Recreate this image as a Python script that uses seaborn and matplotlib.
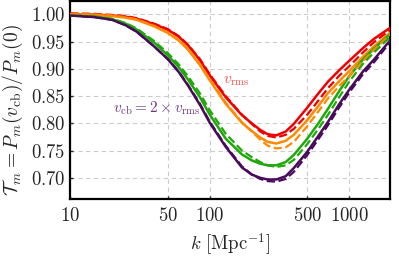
import numpy as np
import pandas as pd
import matplotlib
matplotlib.use("Agg")
import matplotlib.pyplot as plt
import matplotlib.ticker as mticker
import seaborn as sns

# wavenumbers k [Mpc^-1]
k = [10, 15, 20, 25, 30, 40, 50, 60, 70, 85, 100, 130, 170, 200, 230, 260, 300,
     350, 400, 500, 600, 700, 850, 1000, 1250, 1500, 2000]

# transfer T_m for each velocity case, solid and dashed
red_solid = [1.000, 0.9995, 0.998, 0.9955, 0.992, 0.982, 0.972, 0.959, 0.943, 0.916,
             0.888, 0.848, 0.815, 0.800, 0.788, 0.780, 0.778, 0.785, 0.799, 0.829,
             0.855, 0.876, 0.898, 0.915, 0.938, 0.955, 0.977]
red_dash = [1.002, 1.001, 0.999, 0.997, 0.993, 0.983, 0.973, 0.960, 0.944, 0.918,
            0.890, 0.850, 0.816, 0.799, 0.785, 0.777, 0.774, 0.779, 0.790, 0.816,
            0.842, 0.864, 0.888, 0.905, 0.930, 0.949, 0.973]
orange_solid = [1.000, 0.999, 0.997, 0.994, 0.990, 0.978, 0.966, 0.952, 0.935, 0.907,
                0.879, 0.836, 0.801, 0.786, 0.774, 0.766, 0.763, 0.768, 0.779, 0.806,
                0.832, 0.855, 0.878, 0.896, 0.922, 0.941, 0.968]
orange_dash = [1.001, 1.000, 0.998, 0.995, 0.991, 0.979, 0.967, 0.953, 0.937, 0.909,
               0.881, 0.838, 0.802, 0.785, 0.770, 0.759, 0.754, 0.756, 0.766, 0.795,
               0.822, 0.845, 0.869, 0.887, 0.914, 0.935, 0.965]
green_solid = [0.998, 0.996, 0.991, 0.983, 0.972, 0.948, 0.925, 0.903, 0.880, 0.848,
               0.816, 0.772, 0.743, 0.732, 0.726, 0.723, 0.723, 0.729, 0.742, 0.772,
               0.800, 0.826, 0.860, 0.887, 0.917, 0.937, 0.966]
green_dash = [0.998, 0.996, 0.992, 0.984, 0.974, 0.951, 0.929, 0.908, 0.886, 0.855,
              0.824, 0.781, 0.750, 0.738, 0.729, 0.723, 0.720, 0.723, 0.733, 0.762,
              0.790, 0.815, 0.849, 0.877, 0.909, 0.930, 0.961]
purple_solid = [0.998, 0.995, 0.990, 0.980, 0.968, 0.941, 0.918, 0.894, 0.869, 0.834,
                0.801, 0.757, 0.719, 0.706, 0.700, 0.697, 0.697, 0.703, 0.718, 0.748,
                0.777, 0.802, 0.836, 0.862, 0.895, 0.917, 0.955]
purple_dash = [0.998, 0.995, 0.990, 0.980, 0.968, 0.941, 0.918, 0.895, 0.870, 0.836,
               0.803, 0.759, 0.721, 0.706, 0.698, 0.694, 0.693, 0.698, 0.711, 0.742,
               0.771, 0.796, 0.830, 0.857, 0.890, 0.912, 0.952]

xticks = [10, 50, 100, 500, 1000]
yticks = [0.70, 0.75, 0.80, 0.85, 0.90, 0.95, 1.00]

sns.set_style("ticks")
plt.rcParams['mathtext.fontset'] = 'cm'
plt.rcParams['font.family'] = ['DejaVu Serif']

fig = plt.figure(figsize=(3.99, 2.63), dpi=100)
ax = fig.add_axes([0.176, 0.243, 0.801, 0.752])

courbes = [
    (red_solid, '#f00000', '-'), (orange_solid, '#ff8a00', '-'),
    (green_solid, '#1fa80a', '-'), (purple_solid, '#4a0a5c', '-'),
    (red_dash, '#f00000', '--'), (orange_dash, '#ff8a00', '--'),
    (green_dash, '#1fa80a', '--'), (purple_dash, '#4a0a5c', '--'),
]
for vals, c, ls in courbes:
    sns.lineplot(x=k, y=vals, ax=ax, color=c, linestyle=ls,
                 linewidth=1.8 if ls == '-' else 1.6,
                 dashes=False if ls == '-' else (3, 1.5), zorder=3)

ax.set_xscale('log')
ax.set_xlim(10, 1950)
ax.set_ylim(0.661, 1.024)
ax.set_xticks(xticks)
ax.xaxis.set_major_formatter(mticker.FuncFormatter(lambda v, p: f'${v:.0f}$'))
ax.xaxis.set_minor_locator(mticker.NullLocator())
ax.set_yticks(yticks)
ax.yaxis.set_major_formatter(mticker.FuncFormatter(lambda v, p: f'${v:.2f}$'))
ax.tick_params(axis='both', labelsize=13.5, direction='in', length=2, width=1)
ax.tick_params(axis='x', pad=6)

ax.grid(True, linestyle=(0, (4, 3)), color='#cccccc', linewidth=0.8)
for s in ax.spines.values():
    s.set_linewidth(1.6)
    s.set_color('black')

ax.set_xlabel(r'$k\ [\mathrm{Mpc}^{-1}]$', fontsize=13.5, labelpad=4)
ax.set_ylabel(r'$\mathcal{T}_m = P_m(v_{\rm cb})/P_m(0)$', fontsize=14, labelpad=1)
ax.yaxis.set_label_coords(-0.14, 0.45)

ax.text(154, 0.878, r'$v_{\rm rms}$', color='#ff4d4d', fontsize=11,
        ha='center', va='center')
ax.text(41.7, 0.827, r'$v_{\rm cb} = 2\times v_{\rm rms}$', color='#6b3a7c',
        fontsize=11, ha='center', va='center')

fig.savefig('out.png', dpi=100)
